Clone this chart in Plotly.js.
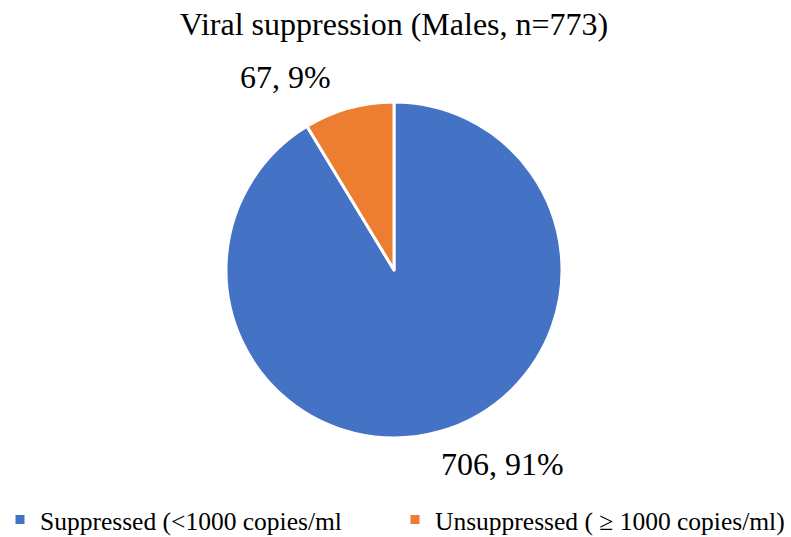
<!DOCTYPE html>
<html><head><meta charset="utf-8">
<script src="https://cdn.plot.ly/plotly-3.0.1.min.js"></script>
<style>html,body{margin:0;padding:0;background:#fff}#chart{width:791px;height:537px}</style>
</head><body><div id="chart"></div>
<script>
const categories = ["Suppressed (<1000 copies/ml", "Unsuppressed ( \u2265 1000 copies/ml)"];
const counts = [706, 67];
const colors = ["#4472C4", "#ED7D31"];
const titleText = "Viral suppression (Males, n=773)";

const total = counts.reduce((a, b) => a + b, 0);
const labelText = counts.map(v => v + ", " + Math.round(v / total * 100) + "%");
const labelPos = [[502, 464], [285, 77]];
const W = 791, H = 537;
const FAM = "Liberation Serif";

const trace = {
  type: "pie",
  labels: categories,
  values: counts,
  sort: false,
  direction: "clockwise",
  rotation: 0,
  textinfo: "none",
  hoverinfo: "label+value+percent",
  marker: {colors: colors, line: {color: "#ffffff", width: 3}},
  domain: {x: [(394 - 168) / W, (394 + 168) / W], y: [1 - 438 / H, 1 - 102 / H]}
};

const layout = {
  width: W, height: H,
  margin: {l: 0, r: 0, t: 0, b: 0, autoexpand: false},
  paper_bgcolor: "#fff",
  font: {family: FAM, color: "#000"},
  title: {text: titleText, font: {family: FAM, size: 32, color: "#000"}, x: 394 / W, xanchor: "center", y: 1 - 24 / H, yanchor: "middle"},
  showlegend: true,
  legend: {orientation: "h", x: 0, xanchor: "left", y: 1 - 520 / H, yanchor: "middle", itemwidth: 30,
    font: {family: FAM, size: 25.5, color: "#000"}, entrywidth: 350, entrywidthmode: "pixels", traceorder: "normal", itemclick: false},
  annotations: labelText.map((t, i) => ({
    text: t, xref: "paper", yref: "paper", x: labelPos[i][0] / W, y: 1 - labelPos[i][1] / H,
    xanchor: "center", yanchor: "middle", showarrow: false, font: {family: FAM, size: 32, color: "#000"}
  }))
};

Plotly.newPlot("chart", [trace], layout, {displayModeBar: false, staticPlot: true});
</script></body></html>
